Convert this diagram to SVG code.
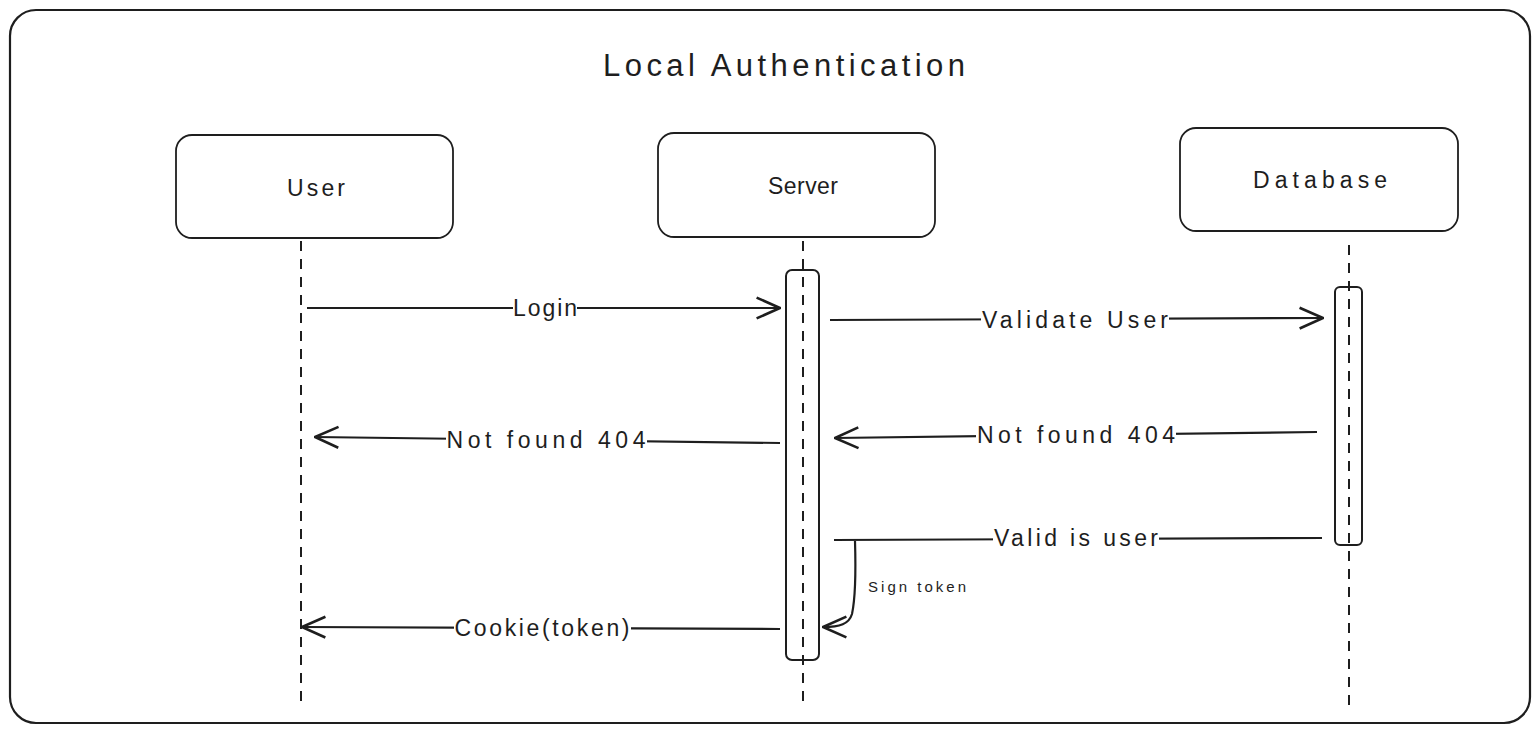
<svg xmlns="http://www.w3.org/2000/svg" width="1540" height="734" viewBox="0 0 1540 734">
<defs>
<style>
.frame{fill:#fff;stroke:#1e1e1e;stroke-width:2.2}
.box{fill:#fff;stroke:#1e1e1e;stroke-width:1.8}
.life{stroke:#1e1e1e;stroke-width:2;stroke-dasharray:10 8;fill:none}
.act{fill:none;stroke:#1e1e1e;stroke-width:2}
.msg{stroke:#1e1e1e;stroke-width:2.2;fill:none}
.t{font-family:"Liberation Sans",Arial,sans-serif;fill:#1e1e1e;text-anchor:middle;dominant-baseline:central}
.lbl{font-size:23px}
.bg{fill:#fff}
</style>
<marker id="ah" viewBox="0 0 20 20" refX="19" refY="10" markerWidth="26" markerHeight="26" markerUnits="userSpaceOnUse" orient="auto">
<path d="M1,2 L19,10 L1,18" fill="none" stroke="#1e1e1e" stroke-width="2"/>
</marker>
</defs>
<rect class="frame" x="10" y="10" width="1520" height="713" rx="26"/>
<text class="t" x="784" y="65" font-size="31" textLength="362" lengthAdjust="spacing">Local Authentication</text>

<g id="user">
<rect class="box" x="176" y="135" width="277" height="103" rx="16"/>
<text class="t lbl" x="316" y="188" textLength="58" lengthAdjust="spacing">User</text>
</g>
<g id="server">
<rect class="box" x="658" y="133" width="277" height="104" rx="16"/>
<text class="t lbl" x="803" y="186" textLength="70" lengthAdjust="spacing">Server</text>
</g>
<g id="database">
<rect class="box" x="1180" y="128" width="278" height="103" rx="16"/>
<text class="t lbl" x="1320" y="180" textLength="134" lengthAdjust="spacing">Database</text>
</g>

<g id="lifelines">
<line class="life" x1="301" y1="241" x2="301" y2="702"/>
<line class="life" x1="803" y1="241" x2="803" y2="702"/>
<line class="life" x1="1349" y1="245" x2="1349" y2="706"/>
</g>
<g id="server-activation">
<rect class="act" x="786" y="270" width="33" height="390" rx="6"/>
</g>
<g id="database-activation">
<rect class="act" x="1335" y="287" width="27" height="258" rx="5"/>
</g>

<g id="connectors">
<line class="msg" x1="307" y1="308" x2="780" y2="308" marker-end="url(#ah)"/>
<rect class="bg" x="513" y="296" width="64" height="24"/>
<text class="t lbl" x="545" y="308" textLength="64" lengthAdjust="spacing">Login</text>

<line class="msg" x1="830" y1="320" x2="1323" y2="318" marker-end="url(#ah)"/>
<rect class="bg" x="981" y="307" width="188" height="26"/>
<text class="t lbl" x="1075" y="320" textLength="186" lengthAdjust="spacing">Validate User</text>

<line class="msg" x1="1317" y1="432" x2="835" y2="438" marker-end="url(#ah)"/>
<rect class="bg" x="976" y="422" width="200" height="26"/>
<text class="t lbl" x="1076" y="435" textLength="198" lengthAdjust="spacing">Not found 404</text>

<line class="msg" x1="780" y1="443" x2="315" y2="437" marker-end="url(#ah)"/>
<rect class="bg" x="446" y="427" width="201" height="26"/>
<text class="t lbl" x="546" y="440" textLength="199" lengthAdjust="spacing">Not found 404</text>

<line class="msg" x1="1322" y1="538" x2="834" y2="540"/>
<rect class="bg" x="993" y="526" width="166" height="26"/>
<text class="t lbl" x="1076" y="538" textLength="164" lengthAdjust="spacing">Valid is user</text>

<path class="msg" d="M855,541 C856,575 855,600 852,614 C849,624 840,627 823,627" marker-end="url(#ah)"/>
<text class="t" x="917" y="586" font-size="15" textLength="98" lengthAdjust="spacing">Sign token</text>

<line class="msg" x1="780" y1="629" x2="302" y2="627" marker-end="url(#ah)"/>
<rect class="bg" x="454" y="615" width="177" height="26"/>
<text class="t lbl" x="542" y="628" textLength="175" lengthAdjust="spacing">Cookie(token)</text>
</g>
</svg>
